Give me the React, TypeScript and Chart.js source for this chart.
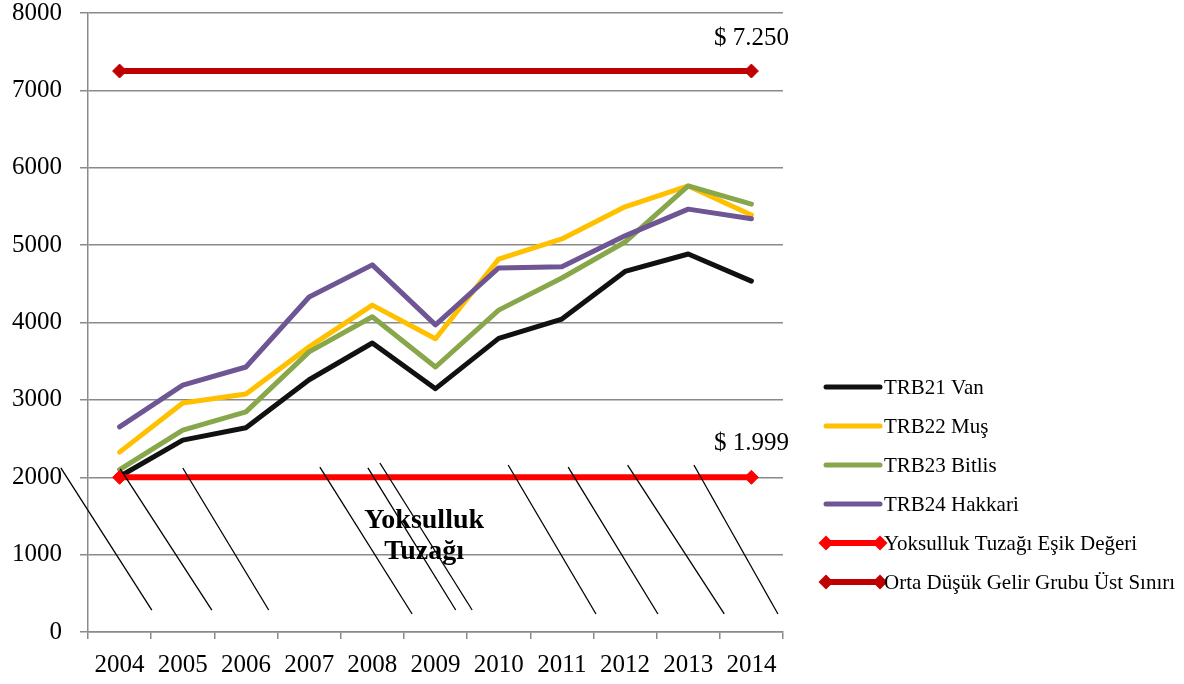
import React, { useEffect, useRef } from 'react';
import { Chart, registerables } from 'chart.js';

Chart.register(...registerables);

// ---------- data ----------
const years = ['2004', '2005', '2006', '2007', '2008', '2009', '2010', '2011', '2012', '2013', '2014'];
const vanValues = [2010, 2480, 2640, 3260, 3735, 3145, 3795, 4045, 4660, 4885, 4535];
const musValues = [2325, 2960, 3075, 3685, 4225, 3790, 4820, 5080, 5495, 5765, 5390];
const bitlisValues = [2100, 2610, 2845, 3620, 4075, 3425, 4160, 4575, 5040, 5765, 5530];
const hakkariValues = [2650, 3190, 3425, 4330, 4745, 3970, 4705, 4720, 5120, 5465, 5340];
const povertyTrapValues = [1999, 1999, 1999, 1999, 1999, 1999, 1999, 1999, 1999, 1999, 1999];
const upperMiddleValues = [7250, 7250, 7250, 7250, 7250, 7250, 7250, 7250, 7250, 7250, 7250];

const seriesNames = [
  'TRB21 Van',
  'TRB22 Muş',
  'TRB23 Bitlis',
  'TRB24 Hakkari',
  'Yoksulluk Tuzağı Eşik Değeri',
  'Orta Düşük Gelir Grubu Üst Sınırı',
];
const thresholdLabels = ['$ 1.999', '$ 7.250'];
const trapLabelLines = ['Yoksulluk', 'Tuzağı'];
const trapLabelAt = { index: 4.82, value: 1240 };
const yMin = 0;
const yMax = 8000;
const yStep = 1000;

// decorative hatch strokes: [fromIndex, fromValue, toIndex, toValue]
const hatchLines = [
  [-0.93, 2120, 0.51, 284],
  [0.01, 2107, 1.46, 284],
  [1.0, 2120, 2.36, 284],
  [3.17, 2132, 4.63, 233],
  [3.93, 2120, 5.32, 284],
  [4.12, 2184, 5.58, 284],
  [6.15, 2158, 7.54, 233],
  [7.1, 2132, 8.52, 233],
  [8.04, 2158, 9.57, 233],
  [9.09, 2158, 10.42, 233],
];

// ---------- styles ----------
const FONT = '"Liberation Serif", "Times New Roman", serif';
const GRID = '#8a8a8a';
const colors = ['#111111', '#FFC000', '#88A64A', '#6E5593', '#FF0000', '#C00000'];

const endPoints = (n: number, r: number) => Array.from({ length: n }, (_, i) => (i === 0 || i === n - 1 ? r : 0));

const annotationPlugin = {
  id: 'annotations',
  afterDraw(chart: any) {
    const { ctx, scales } = chart;
    const x = scales.x;
    const y = scales.y;
    ctx.save();
    // threshold value labels
    ctx.fillStyle = '#000';
    ctx.font = `25px ${FONT}`;
    ctx.textAlign = 'center';
    ctx.textBaseline = 'middle';
    const last = years.length - 1;
    ctx.fillText(thresholdLabels[0], x.getPixelForValue(last), y.getPixelForValue(povertyTrapValues[last]) - 34);
    ctx.fillText(thresholdLabels[1], x.getPixelForValue(last), y.getPixelForValue(upperMiddleValues[last]) - 33);
    // trap label
    ctx.font = `bold 28px ${FONT}`;
    const tx = x.getPixelForValue(trapLabelAt.index);
    const ty = y.getPixelForValue(trapLabelAt.value);
    ctx.fillText(trapLabelLines[0], tx, ty - 15);
    ctx.fillText(trapLabelLines[1], tx, ty + 16);
    // hatch strokes
    ctx.strokeStyle = '#000';
    ctx.lineWidth = 1.3;
    for (const [i0, v0, i1, v1] of hatchLines) {
      ctx.beginPath();
      ctx.moveTo(x.getPixelForValue(i0), y.getPixelForValue(v0));
      ctx.lineTo(x.getPixelForValue(i1), y.getPixelForValue(v1));
      ctx.stroke();
    }
    // legend
    const lx0 = chart.chartArea.right + 43;
    const lx1 = lx0 + 54;
    const rowTop = 387;
    const rowGap = 39;
    ctx.textAlign = 'left';
    ctx.textBaseline = 'middle';
    ctx.font = `21px ${FONT}`;
    seriesNames.forEach((name, i) => {
      const ry = rowTop + i * rowGap;
      ctx.strokeStyle = colors[i];
      ctx.lineWidth = i >= 4 ? 6 : 5;
      ctx.lineCap = 'round';
      ctx.beginPath();
      ctx.moveTo(lx0, ry);
      ctx.lineTo(lx1, ry);
      ctx.stroke();
      if (i >= 4) {
        ctx.fillStyle = colors[i];
        for (const cx of [lx0, lx1]) {
          ctx.beginPath();
          ctx.moveTo(cx - 7.5, ry);
          ctx.lineTo(cx, ry - 7.5);
          ctx.lineTo(cx + 7.5, ry);
          ctx.lineTo(cx, ry + 7.5);
          ctx.closePath();
          ctx.fill();
        }
      }
      ctx.fillStyle = '#000';
      ctx.fillText(name, lx1 + 4, ry + 1);
    });
    ctx.restore();
  },
};

export default function App() {
  const ref = useRef<HTMLCanvasElement>(null);
  useEffect(() => {
    document.body.style.margin = '0';
    const seriesData = [vanValues, musValues, bitlisValues, hakkariValues];
    const datasets: any[] = seriesData.map((d, i) => ({
      label: seriesNames[i],
      data: d,
      borderColor: colors[i],
      backgroundColor: colors[i],
      borderWidth: 5,
      pointRadius: 0,
      tension: 0,
      borderJoinStyle: 'round',
      borderCapStyle: 'round',
      order: 10 - i,
    }));
    [povertyTrapValues, upperMiddleValues].forEach((d, j) => {
      const i = j + 4;
      datasets.push({
        label: seriesNames[i],
        data: d,
        borderColor: colors[i],
        backgroundColor: colors[i],
        borderWidth: 6,
        pointStyle: 'rectRot',
        pointRadius: endPoints(d.length, 7),
        pointBorderWidth: 1,
        pointBackgroundColor: colors[i],
        pointBorderColor: colors[i],
        tension: 0,
        order: 10 - i,
      });
    });
    const chart = new Chart(ref.current!, {
      type: 'line',
      data: { labels: years, datasets },
      options: {
        responsive: false,
        animation: false,
        devicePixelRatio: 1,
        events: [],
        layout: { padding: { top: 13, right: 401, left: 0, bottom: 0 } },
        plugins: { legend: { display: false }, tooltip: { enabled: false } },
        scales: {
          x: {
            type: 'category',
            offset: true,
            grid: { offset: true, drawOnChartArea: false, drawTicks: true, tickLength: 7, color: GRID, lineWidth: 1.5 },
            border: { display: true, color: GRID, width: 1.5 },
            ticks: { color: '#000', font: { family: FONT, size: 25 }, padding: 11, maxRotation: 0, autoSkip: false },
            afterFit: (s: any) => { s.height = 52; s.paddingLeft = 0; s.paddingRight = 0; },
          },
          y: {
            min: yMin,
            max: yMax,
            ticks: {
              stepSize: yStep,
              color: '#000',
              font: { family: FONT, size: 25, lineHeight: 1 },
              padding: 18,
              callback: (v: any) => String(v),
            },
            grid: { color: GRID, lineWidth: 1.5, tickLength: 8, drawTicks: true },
            border: { display: true, color: GRID, width: 1.5 },
            afterFit: (s: any) => { s.width = 88; s.paddingTop = 0; s.paddingBottom = 0; },
          },
        },
      },
      plugins: [annotationPlugin],
    });
    return () => chart.destroy();
  }, []);
  return (
    <div style={{ width: 1184, height: 684, position: 'relative', background: '#fff' }}>
      <canvas ref={ref} width={1184} height={684} style={{ display: 'block' }} />
    </div>
  );
}
